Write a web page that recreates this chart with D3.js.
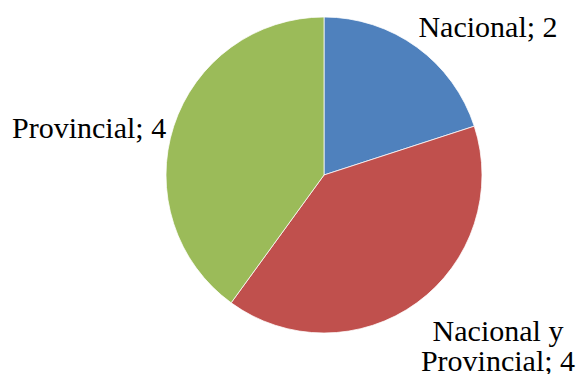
<!DOCTYPE html>
<html>
<head>
<meta charset="utf-8">
<script src="https://cdn.jsdelivr.net/npm/d3@7"></script>
<style>
  html, body { margin: 0; padding: 0; background: #fff; }
  svg { display: block; }
  text { font-family: "Liberation Serif", "DejaVu Serif", serif; fill: #000; }
</style>
</head>
<body>
<svg id="chart" width="579" height="374"></svg>
<script>
// Slice data
const categories = ["Nacional", "Nacional y Provincial", "Provincial"];
const values = [2, 4, 4];
const colors = ["#4F81BD", "#C0504D", "#9BBB59"];
// Label lines and anchor positions for each slice
const labelLines = [["Nacional; 2"], ["Nacional y", "Provincial; 4"], ["Provincial; 4"]];
const labelPos = [[488, 37, "middle"], [498, 341, "middle"], [12, 138, "start"]];

const svg = d3.select("#chart");
const cx = 324, cy = 175, r = 158;

const pie = d3.pie().sort(null).value(d => d.value);
const arc = d3.arc().innerRadius(0).outerRadius(r);

const data = categories.map((c, i) => ({ name: c, value: values[i], color: colors[i] }));

const g = svg.append("g").attr("transform", `translate(${cx},${cy})`);
g.selectAll("path")
  .data(pie(data))
  .join("path")
  .attr("d", arc)
  .attr("fill", d => d.data.color)
  .attr("stroke", "#ffffff")
  .attr("stroke-width", 0.75);

const fontSize = 30;
const lineGap = 30;
data.forEach((d, i) => {
  const [x, y, anchor] = labelPos[i];
  const t = svg.append("text")
    .attr("x", x).attr("y", y)
    .attr("text-anchor", anchor)
    .style("font-size", fontSize + "px");
  labelLines[i].forEach((line, j) => {
    t.append("tspan").attr("x", x).attr("y", y + j * lineGap).text(line);
  });
});
</script>
</body>
</html>
